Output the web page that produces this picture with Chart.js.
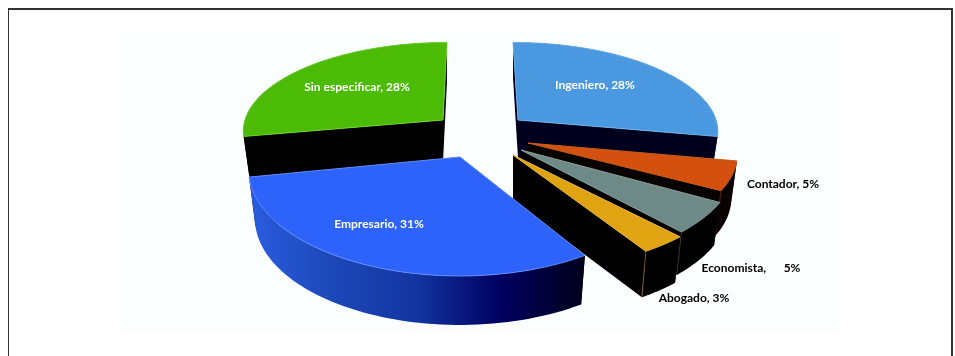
<!DOCTYPE html>
<html>
<head>
<meta charset="utf-8">
<title>Profesiones</title>
<style>
  html, body { margin: 0; padding: 0; background: #fff; overflow: hidden; }
  #frame { position: absolute; left: 8px; top: 8px; width: 942px; height: 360px;
    border: 2px solid #333; border-bottom: none; border-left-width: 1.5px; }
  #plot { position: absolute; left: 120px; top: 32px; width: 720px; height: 299px; background: #fafeff; }
  canvas { position: absolute; left: 0; top: 0; }
</style>
</head>
<body>
<div id="frame"></div>
<div id="plot"></div>
<canvas id="pieChart" width="955" height="356"></canvas>
<script src="https://cdn.jsdelivr.net/npm/chart.js@4"></script>
<script>
// drawn back to front, so the list starts with the slice furthest away
const categories = ['Sin especificar', 'Ingeniero', 'Contador', 'Economista', 'Abogado', 'Empresario'];
const values = [28, 28, 5, 5, 3, 31];
const separators = [', ', ', ', ', ', ',\u00a0\u00a0\u00a0\u00a0\u00a0\u00a0', ', ', ', '];
const topColors = ['#4cbb06', '#4a98e0', '#d4500f', '#6e8a86', '#e0a412', '#2e63fb'];
const edgeColors = ['#6fd030', '#6cb0ea', '#c86020', '#8aa09c', '#eab840', '#5f8cff'];
const cornerColors = [null, null, '#5a2408', '#3a3020', '#7a5a20', null];
const labelColors = ['#fff', '#fff', '#000', '#000', '#000', '#fff'];

// where each exploded slice sits and how it is tilted
const sliceLayout = [
  { cx: 443, cy: 120, r: 198, k: 0.435, depth: 42, lean: -0.02, side: '#000' },
  { cx: 518, cy: 120, r: 198, k: 0.435, depth: 38, lean: 0.025, side: '#00001e' },
  { cx: 528, cy: 143, r: 208, k: 0.45, depth: 45, lean: 0, side: '#080200' },
  { cx: 521, cy: 150, r: 214, k: 0.48, depth: 43, lean: 0, side: '#000' },
  { cx: 513, cy: 155, r: 222, k: 0.46, depth: 46, lean: 0, side: '#000' },
  { cx: 460, cy: 157, r: 210, k: 0.5, depth: 49, lean: 0, side: '#000010' }
];
const labelSpots = [[357, 87], [595, 85], [783, 184], [751, 268], [694, 298], [379, 224]];

const PERSPECTIVE = 0.115;
const WALL_SHRINK = 0.97;

function project(s, angle) {
  const X = s.r * Math.cos(angle);
  const Y = s.r * Math.sin(angle);
  const p = 1 / (1 - PERSPECTIVE * Y / 206);
  return [s.cx + X * p + s.lean * Y, s.cy + s.k * Y * p];
}

function lowered(s, pt) {
  return [s.cx + (pt[0] - s.cx) * WALL_SHRINK, pt[1] + s.depth];
}

function fillPath(ctx, pts, color) {
  ctx.beginPath();
  pts.forEach((pt, i) => i ? ctx.lineTo(pt[0], pt[1]) : ctx.moveTo(pt[0], pt[1]));
  ctx.closePath();
  ctx.fillStyle = color;
  ctx.fill();
}

function wallPaint(ctx, i, s) {
  if (i !== 5) return s.side;
  // the big front slice fades from blue to almost black on its outer wall
  const g = ctx.createLinearGradient(250, 0, 585, 0);
  g.addColorStop(0, '#2a5ce0');
  g.addColorStop(0.25, '#1d48b8');
  g.addColorStop(0.5, '#1234a0');
  g.addColorStop(0.75, '#000060');
  g.addColorStop(1, '#00001a');
  return g;
}

const pie3d = {
  id: 'pie3d',
  beforeDatasetsDraw(chart) {
    const ctx = chart.ctx;
    chart.getDatasetMeta(0).data.forEach((el, i) => {
      const s = sliceLayout[i];
      const arc = [];
      const steps = 60;
      for (let n = 0; n <= steps; n++) {
        arc.push(project(s, el.startAngle + (el.endAngle - el.startAngle) * n / steps));
      }
      const apex = [s.cx, s.cy];
      const apexLow = [s.cx, s.cy + s.depth];
      const first = arc[0];
      const last = arc[steps];

      // cut faces, then the curved wall, then the top
      fillPath(ctx, [apex, first, lowered(s, first), apexLow], s.side);
      fillPath(ctx, [apex, last, lowered(s, last), apexLow], s.side);
      fillPath(ctx, arc.concat(arc.map(pt => lowered(s, pt)).reverse()), wallPaint(ctx, i, s));

      // thin highlight down the front corner of the small slices
      if (cornerColors[i]) {
        const low = lowered(s, last);
        ctx.beginPath();
        ctx.moveTo(last[0], last[1]);
        ctx.lineTo(low[0], low[1]);
        ctx.strokeStyle = cornerColors[i];
        ctx.lineWidth = 1;
        ctx.stroke();
      }

      fillPath(ctx, [apex].concat(arc), el.options.backgroundColor);

      ctx.beginPath();
      ctx.moveTo(apex[0], apex[1]);
      arc.forEach(pt => ctx.lineTo(pt[0], pt[1]));
      ctx.closePath();
      ctx.strokeStyle = el.options.borderColor;
      ctx.lineWidth = el.options.borderWidth;
      ctx.stroke();
    });
    return false;
  },
  afterDraw(chart) {
    const ctx = chart.ctx;
    ctx.font = 'bold 12px Lato, "Open Sans", sans-serif';
    ctx.textAlign = 'center';
    ctx.textBaseline = 'middle';
    categories.forEach((name, i) => {
      ctx.fillStyle = labelColors[i];
      ctx.fillText(name + separators[i] + values[i] + '%', labelSpots[i][0], labelSpots[i][1]);
    });
  }
};

new Chart(document.getElementById('pieChart').getContext('2d'), {
  type: 'pie',
  data: {
    labels: categories,
    datasets: [{
      data: values,
      backgroundColor: topColors,
      borderColor: edgeColors,
      borderWidth: 1
    }]
  },
  options: {
    responsive: false,
    animation: false,
    rotation: -100.8,
    plugins: { legend: { display: false }, tooltip: { enabled: false } }
  },
  plugins: [pie3d]
});
</script>
</body>
</html>
